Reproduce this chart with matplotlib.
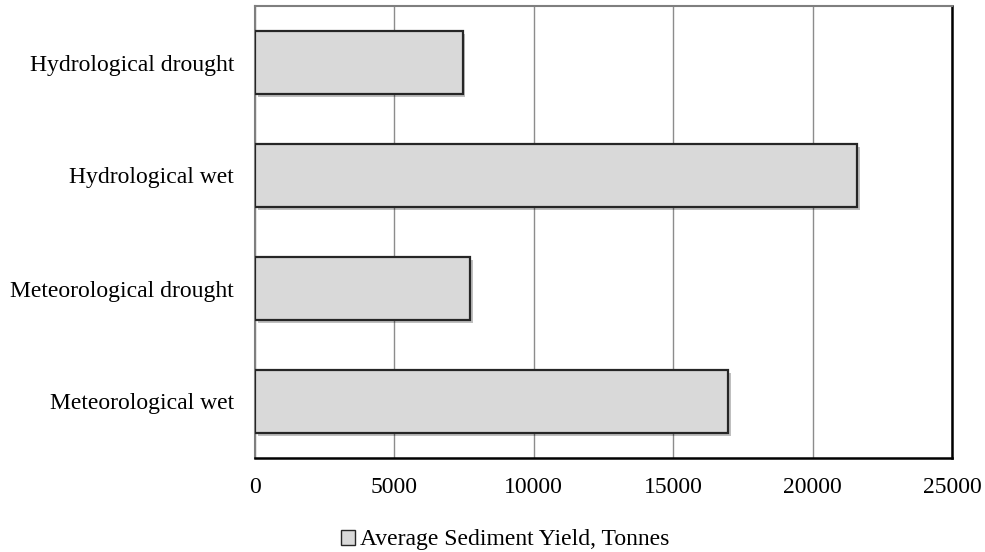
import matplotlib
matplotlib.use("Agg")
import matplotlib.pyplot as plt
import matplotlib.patheffects as pe
from matplotlib.patches import Patch

categories = ["Meteorological wet", "Meteorological drought", "Hydrological wet", "Hydrological drought"]
values = [16980, 7720, 21590, 7450]
xticks = [0, 5000, 10000, 15000, 20000, 25000]
legend_label = "Average Sediment Yield, Tonnes"

plt.rcParams['font.family'] = ['Liberation Serif', 'DejaVu Serif']

fig = plt.figure(figsize=(9.85, 5.52), dpi=100)
ax = fig.add_axes([255/985, 1 - 458/552, (952-255)/985, (458-6)/552])

bars = ax.barh(range(len(categories)), values, height=0.56, color="#d9d9d9",
               edgecolor="#262626", linewidth=1.6, zorder=3)
for b in bars:
    b.set_path_effects([pe.SimplePatchShadow(offset=(2, -2), shadow_rgbFace="#000000", alpha=0.25),
                        pe.Normal()])

ax.set_xlim(0, 25000)
ax.set_ylim(-0.5, len(categories) - 0.5)
ax.set_xticks(xticks)
ax.set_xticklabels([str(t) for t in xticks], fontsize=17)
ax.set_yticks(range(len(categories)))
ax.set_yticklabels(categories, fontsize=17)
ax.tick_params(axis='both', length=0)
ax.tick_params(axis='x', pad=14)
ax.tick_params(axis='y', pad=15)
ax.xaxis.grid(True, color="#8c8c8c", linewidth=1.0, zorder=0)
ax.set_axisbelow(True)

ax.spines['top'].set_color("#7f7f7f")
ax.spines['left'].set_color("#7f7f7f")
ax.spines['top'].set_linewidth(1.5)
ax.spines['left'].set_linewidth(1.5)
ax.spines['right'].set_color("#000000")
ax.spines['bottom'].set_color("#000000")
ax.spines['right'].set_linewidth(1.8)
ax.spines['bottom'].set_linewidth(1.8)

handle = Patch(facecolor="#d9d9d9", edgecolor="#262626", linewidth=1.0)
fig.legend([handle], [legend_label], loc="center", bbox_to_anchor=(505/985, 1 - 540/552),
           frameon=False, fontsize=17, handlelength=0.6, handleheight=0.6, handletextpad=0.2)

fig.savefig("out.png", dpi=100)
